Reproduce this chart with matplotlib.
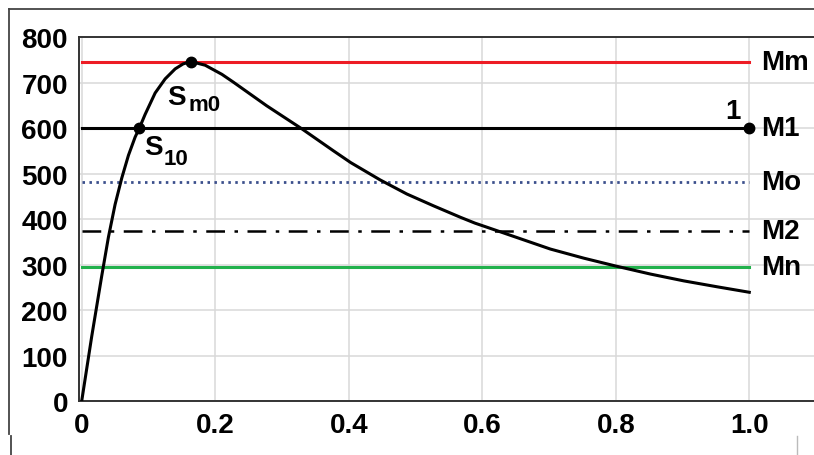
import matplotlib.pyplot as plt
from matplotlib.lines import Line2D

# curve
curve_x = [0, 0.015, 0.030, 0.040, 0.050, 0.060, 0.070, 0.080, 0.0864, 0.095,
           0.110, 0.125, 0.140, 0.152, 0.1638, 0.185, 0.210, 0.227, 0.277,
           0.330, 0.377, 0.403, 0.447, 0.487, 0.527, 0.567, 0.589, 0.607,
           0.702, 0.752, 0.799, 0.852, 0.902, 0.952, 1.0]
curve_y = [0, 142, 275, 360, 432, 490, 540, 580, 600, 630,
           677, 708, 730, 741, 746, 738, 718, 701, 649,
           598, 550, 524, 486, 455, 429, 404, 391, 382,
           334, 314, 297, 279, 264, 251, 239]

level_names = ["Mm", "M1", "Mo", "M2", "Mn"]
level_values = [746, 600, 482, 374, 295]

s10 = (0.0864, 600)
sm0 = (0.1638, 746)
point1 = (1.0, 600)

x_ticks = [0, 0.2, 0.4, 0.6, 0.8, 1.0]
x_labels = ["0", "0.2", "0.4", "0.6", "0.8", "1.0"]
y_ticks = list(range(0, 801, 100))

plt.rcParams["font.family"] = ["Liberation Sans", "DejaVu Sans"]
plt.rcParams["font.weight"] = "bold"

fig = plt.figure(figsize=(8.14, 4.56), dpi=100)
ax = fig.add_axes([0.0971, 0.1184, 0.9054, 0.7982])

styles = {
    "Mm": dict(color="#ed1c24", lw=2.2, ls="-"),
    "M1": dict(color="black", lw=2.2, ls="-"),
    "Mo": dict(color="#3b4f8c", lw=2.0, ls=(0, (0.9, 1.6))),
    "M2": dict(color="black", lw=1.8, ls=(0, (7.5, 3.8, 1.4, 3.8))),
    "Mn": dict(color="#22b14c", lw=2.2, ls="-"),
}
for name, val in zip(level_names, level_values):
    ax.plot([0, 1.0], [val, val], zorder=3, **styles[name])
    ax.text(1.018, val, name, ha="left", va="center", fontsize=20,
            fontweight="bold")

ax.plot(curve_x, curve_y, color="black", lw=2.2, zorder=4,
        solid_joinstyle="round")

for px, py in (s10, sm0, point1):
    ax.plot(px, py, "o", color="black", markersize=7.5, zorder=5)

ax.text(0.975, 637, "1", ha="center", va="center", fontsize=20, fontweight="bold")
ax.text(0.142, 668, "S", ha="center", va="center", fontsize=20, fontweight="bold")
ax.text(0.160, 652, "m0", ha="left", va="center", fontsize=16, fontweight="bold")
ax.text(0.108, 558, "S", ha="center", va="center", fontsize=20, fontweight="bold")
ax.text(0.122, 532, "10", ha="left", va="center", fontsize=16, fontweight="bold")

ax.set_xlim(-0.004, 1.1)
ax.set_ylim(0, 800)
ax.set_xticks(x_ticks)
ax.set_xticklabels(x_labels)
ax.set_yticks(y_ticks)
ax.tick_params(length=0, labelsize=20, pad=8)
for lab in ax.get_xticklabels() + ax.get_yticklabels():
    lab.set_fontweight("bold")
ax.grid(True, color="#d9d9d9", lw=1.1, zorder=0)
ax.set_axisbelow(True)
ax.spines["right"].set_visible(False)
for side in ("top", "bottom", "left"):
    ax.spines[side].set_color("#333333")
    ax.spines[side].set_linewidth(1.4)

# outer frame
W, H = 814, 456
def fline(x0, y0, x1, y1, color="#444444", lw=1.3):
    fig.add_artist(Line2D([x0 / W, x1 / W], [1 - y0 / H, 1 - y1 / H],
                          transform=fig.transFigure, color=color, lw=lw))
fline(8.5, 10, 814, 10)
fline(8.5, 10, 8.5, 435)
fline(11, 437, 11, 456)
fline(797, 437, 797, 456, color="#bbbbbb", lw=1.0)

fig.savefig("out.png", dpi=100)
